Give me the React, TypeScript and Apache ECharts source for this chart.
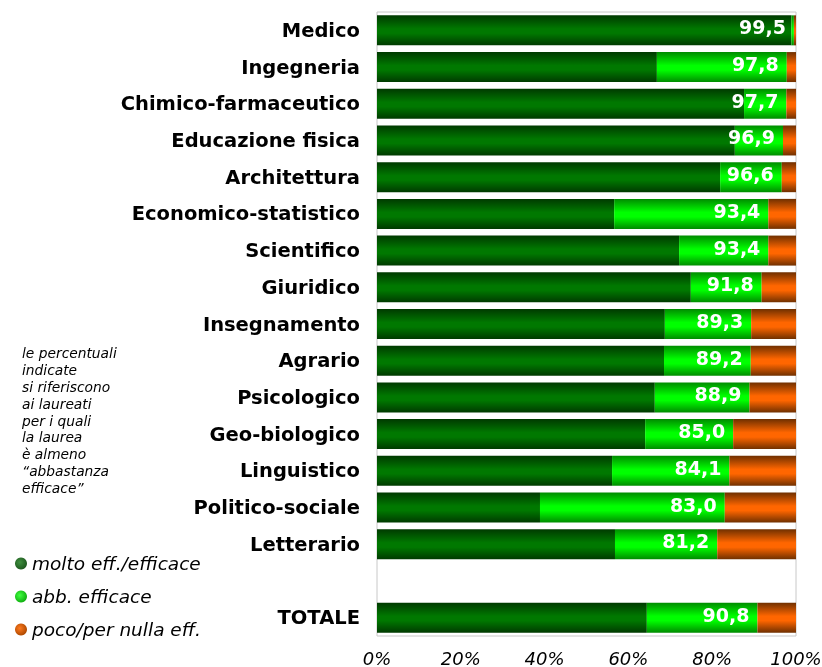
import React, { useEffect, useRef } from "react";
import * as echarts from "echarts";

const categories = [
  "Medico", "Ingegneria", "Chimico-farmaceutico", "Educazione fisica", "Architettura",
  "Economico-statistico", "Scientifico", "Giuridico", "Insegnamento", "Agrario",
  "Psicologico", "Geo-biologico", "Linguistico", "Politico-sociale", "Letterario", "", "TOTALE",
];
const molto = [98.9, 66.8, 87.6, 85.4, 81.9, 56.6, 72.1, 74.9, 68.7, 68.5, 66.3, 64.0, 56.1, 38.9, 56.8, null, 64.4];
const abb = [0.6, 31.0, 10.1, 11.5, 14.7, 36.8, 21.3, 16.9, 20.6, 20.7, 22.6, 21.0, 28.0, 44.1, 24.4, null, 26.4];
const poco = [0.5, 2.2, 2.3, 3.1, 3.4, 6.6, 6.6, 8.2, 10.7, 10.8, 11.1, 15.0, 15.9, 17.0, 18.8, null, 9.2];
const totals = [99.5, 97.8, 97.7, 96.9, 96.6, 93.4, 93.4, 91.8, 89.3, 89.2, 88.9, 85.0, 84.1, 83.0, 81.2, null, 90.8];
const xTicks = [0, 20, 40, 60, 80, 100];
const seriesNames = ["molto eff./efficace", "abb. efficace", "poco/per nulla eff."];
const noteLines = [
  "le percentuali", "indicate", "si riferiscono", "ai laureati", "per i quali",
  "la laurea", "è almeno", "“abbastanza", "efficace”",
];

const grad = (edge: string, mid: string) =>
  new echarts.graphic.LinearGradient(0, 0, 0, 1, [
    { offset: 0, color: edge },
    { offset: 0.45, color: mid },
    { offset: 0.6, color: mid },
    { offset: 1, color: edge },
  ]);
const radial = (edge: string, mid: string) =>
  new echarts.graphic.RadialGradient(0.4, 0.4, 0.6, [
    { offset: 0, color: mid },
    { offset: 1, color: edge },
  ]);

const FONT = "DejaVu Sans, Verdana, sans-serif";

export default function App() {
  const ref = useRef<HTMLDivElement>(null);
  useEffect(() => {
    if (!ref.current) return;
    const chart = echarts.init(ref.current, null, { renderer: "svg" });
    const colors = [
      { bar: grad("#003a00", "#007800"), dot: radial("#1f5a1f", "#3f8f3f") },
      { bar: grad("#008c00", "#00ff00"), dot: radial("#10b010", "#40ff40") },
      { bar: grad("#703000", "#ff6600"), dot: radial("#b04a00", "#ff7a20") },
    ];
    const dataSets = [molto, abb, poco];
    chart.setOption({
      animation: false,
      textStyle: { fontFamily: FONT },
      grid: {
        left: 377, right: 26, top: 12, bottom: 31,
        containLabel: false,
        outerBoundsMode: "none",
        show: true, borderColor: "#c8c8c8", borderWidth: 1, backgroundColor: "transparent",
      },
      legend: {
        orient: "vertical",
        left: 10,
        top: 549,
        icon: "circle",
        itemWidth: 12,
        itemHeight: 12,
        itemGap: 14,
        data: seriesNames.map((n, i) => ({ name: n, itemStyle: { color: colors[i].dot } })),
        textStyle: { fontFamily: FONT, fontStyle: "italic", fontSize: 18.5, color: "#000" },
      },
      xAxis: {
        type: "value",
        min: xTicks[0],
        max: xTicks[xTicks.length - 1],
        interval: 20,
        axisLine: { show: false },
        axisTick: { show: false },
        splitLine: { show: false },
        axisLabel: { formatter: "{value}%", fontFamily: FONT, fontStyle: "italic", fontSize: 18, color: "#000", margin: 13 },
      },
      yAxis: {
        type: "category",
        data: categories,
        inverse: true,
        axisLine: { show: false },
        axisTick: { show: false },
        axisLabel: { fontFamily: FONT, fontWeight: "bold", fontSize: 19.5, color: "#000", margin: 17 },
      },
      series: dataSets.map((d, i) => ({
        type: "bar",
        name: seriesNames[i],
        stack: "t",
        data: d,
        barWidth: 30,
        itemStyle: { color: colors[i].bar },
        label:
          i === 1
            ? {
                show: true,
                position: "insideRight",
                distance: 8,
                offset: [0, -3],
                formatter: (p: any) => {
                  const v = totals[p.dataIndex];
                  return v == null ? "" : v.toFixed(1).replace(".", ",");
                },
                color: "#fff",
                fontFamily: FONT,
                fontWeight: "bold",
                fontSize: 19,
              }
            : { show: false },
      })),
      graphic: [
        {
          type: "text",
          left: 22,
          top: 345,
          style: {
            text: noteLines.join("\n"),
            font: `italic 13.8px ${FONT}`,
            lineHeight: 16.8,
            fill: "#000",
          },
        },
      ],
    });
    return () => chart.dispose();
  }, []);
  return <div ref={ref} style={{ position: "fixed", left: 0, top: 0, width: 822, height: 667 }} />;
}
